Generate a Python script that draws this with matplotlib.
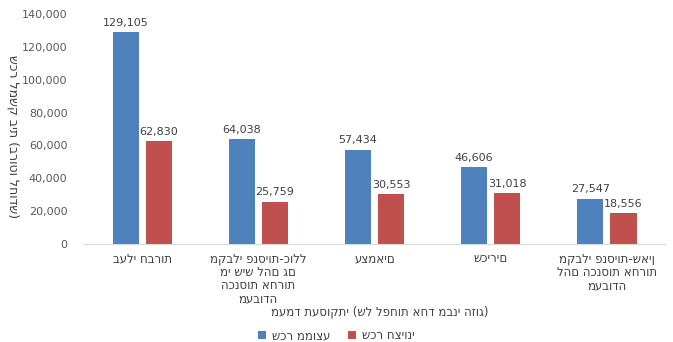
import numpy as np
import matplotlib
matplotlib.use("Agg")
import matplotlib.pyplot as plt

# Household wage by employment status (gross, monthly)
categories = [
    ["בעלי חברות"],
    ["מקבלי פנסיות-כולל", "מי שיש להם גם", "הכנסות אחרות", "מעבודה"],
    ["עצמאים"],
    ["שכירים"],
    ["מקבלי פנסיות-שאין", "להם הכנסות אחרות", "מעבודה"],
]
mean_wage = [129105, 64038, 57434, 46606, 27547]
median_wage = [62830, 25759, 30553, 31018, 18556]
series_names = ["שכר ממוצע", "שכר חציוני"]
y_label = "שכר למשק בית (ברוטו לחודש)"
x_label = "מעמד תעסוקתי (של לפחות אחד מבני הזוג)"

BLUE = "#4F81BD"
RED = "#C0504D"
GREY = "#595959"
DARK = "#404040"

plt.rcParams["font.family"] = ["DejaVu Sans"]

fig = plt.figure(figsize=(6.73, 3.42), dpi=100)
ax = fig.add_axes([0.125, 0.287, 0.863, 0.672])

x = np.arange(len(mean_wage))
w = 0.225
off = 0.143
b1 = ax.bar(x - off, mean_wage, w, color=BLUE, label=series_names[0])
b2 = ax.bar(x + off, median_wage, w, color=RED, label=series_names[1])

for bars, vals in ((b1, mean_wage), (b2, median_wage)):
    for b, v in zip(bars, vals):
        ax.annotate(f"{v:,}", (b.get_x() + b.get_width() / 2, v),
                    xytext=(0, 3), textcoords="offset points",
                    ha="center", va="bottom", fontsize=8, color=DARK)

ax.set_xlim(-0.5, len(mean_wage) - 0.5)
ax.set_ylim(0, 140000)
ax.set_yticks(np.arange(0, 140001, 20000))
ax.set_yticklabels([f"{v:,}" for v in range(0, 140001, 20000)])
ax.set_xticks(x)
ax.set_xticklabels(["\n".join(c) for c in categories],
                   fontsize=8.5, color=DARK, linespacing=1.05)

for side in ("top", "right", "left"):
    ax.spines[side].set_visible(False)
ax.spines["bottom"].set_color("#d9d9d9")
ax.tick_params(axis="y", length=0, labelsize=8, labelcolor=GREY, pad=12)
ax.tick_params(axis="x", length=0, pad=6)

# axis titles
fig.text(0.019, 0.60, y_label, rotation=-90, ha="center", va="center",
         fontsize=9, color=DARK)
fig.text(0.565, 0.088, x_label, ha="center", va="center",
         fontsize=8.5, color=DARK)

fig.legend(loc="center", bbox_to_anchor=(0.5, 0.018), ncol=2, frameon=False,
           fontsize=8.5, handlelength=0.7, handleheight=0.7,
           columnspacing=1.5, handletextpad=0.5, labelcolor=DARK)

fig.savefig("out.png", dpi=100, facecolor="white")
